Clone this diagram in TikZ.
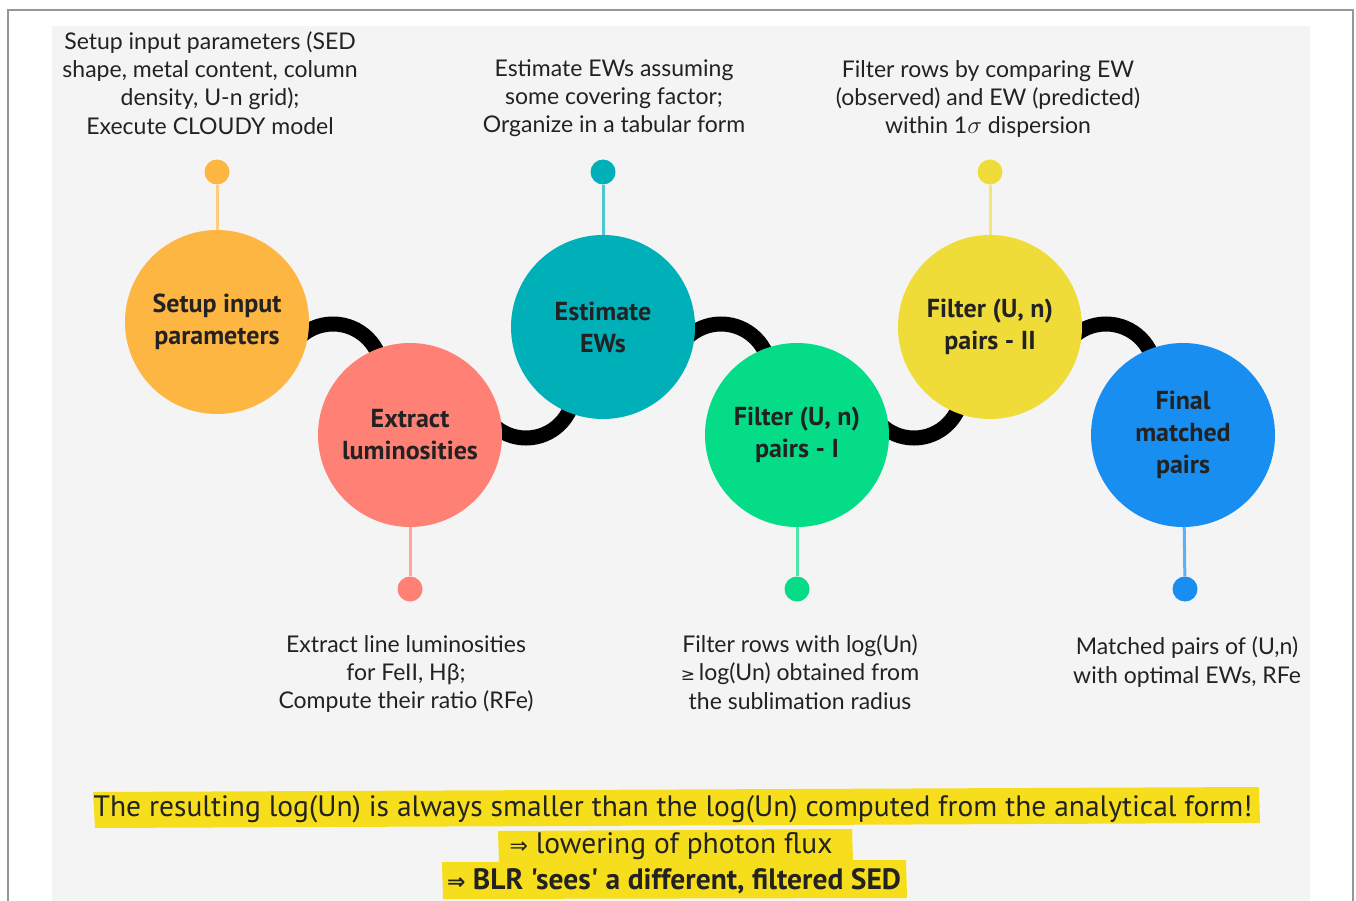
\documentclass[tikz,border=0pt]{standalone}
\usepackage{fontspec}
\setmainfont{Lato}
\newfontfamily\circfont{PT Sans}
\newfontfamily\condfont{PT Sans}
\newfontfamily\symfont{DejaVu Sans}
\definecolor{bggray}{RGB}{244,244,244}
\definecolor{framegray}{RGB}{150,150,150}
\definecolor{corange}{RGB}{254,182,66}
\definecolor{csalmon}{RGB}{255,128,117}
\definecolor{cteal}{RGB}{0,176,185}
\definecolor{cgreen}{RGB}{4,220,136}
\definecolor{cyellow}{RGB}{240,220,56}
\definecolor{cblue}{RGB}{23,142,240}
\definecolor{hlyellow}{RGB}{247,222,28}
\definecolor{txt}{RGB}{34,34,34}
\pgfdeclarelayer{bg}
\pgfdeclarelayer{mid}
\pgfsetlayers{bg,mid,main}
\tikzset{
  stepcirc/.style={circle, minimum size=184pt, inner sep=0pt, align=center,
    font=\circfont\bfseries\fontsize{26}{32}\selectfont, text=txt},
  pindot/.style={circle, minimum size=25pt, inner sep=0pt},
  pinline/.style={line width=3pt},
  linkarc/.style={line width=15pt, draw=black},
  note/.style={align=center, inner sep=0pt, text=txt,
    font=\fontsize{23}{28.3}\selectfont},
  hltext/.style={inner sep=0pt, text=txt,
    font=\condfont\fontsize{29.5}{34}\selectfont},
  hlband/.style={fill=hlyellow},
}
\begin{document}
\begin{tikzpicture}[x=1pt,y=-1pt]
\useasboundingbox (0,0) rectangle (1356,901);
\begin{pgfonlayer}{bg}
  \fill[white] (0,0) rectangle (1356,901);
  \fill[bggray] (52,26) rectangle (1310,901);
  \draw[framegray, line width=1.5pt] (8,901) |- (1353,10) -- (1353,901);
\end{pgfonlayer}

% main step circles
\node[stepcirc, fill=corange] (c1) at (217,322) {Setup input\\parameters};
\node[stepcirc, fill=csalmon] (c2) at (410,435) {Extract\\luminosities};
\node[stepcirc, fill=cteal]   (c3) at (603,327) {Estimate\\EWs};
\node[stepcirc, fill=cgreen]  (c4) at (797,435) {Filter (U, n)\\pairs - I};
\node[stepcirc, fill=cyellow] (c5) at (990,327) {Filter (U, n)\\pairs - II};
\node[stepcirc, fill=cblue]   (c6) at (1183,435) {Final\\matched\\pairs};

% linking arcs (behind circles)
\coordinate (a12) at (284,373);
\coordinate (a23) at (478,390);
\coordinate (a34) at (672,373);
\coordinate (a45) at (866,390);
\coordinate (a56) at (1057,373);
\begin{pgfonlayer}{mid}
  \draw[linkarc] (a12) arc[start angle=180, end angle=0, radius=49pt];
  \draw[linkarc] (a23) arc[start angle=180, end angle=360, radius=48pt];
  \draw[linkarc] (a34) arc[start angle=180, end angle=0, radius=49pt];
  \draw[linkarc] (a45) arc[start angle=180, end angle=360, radius=48pt];
  \draw[linkarc] (a56) arc[start angle=180, end angle=0, radius=49pt];
\end{pgfonlayer}

% pins
\node[pindot, fill=corange] (d1) at (217,172) {};
\node[pindot, fill=csalmon] (d2) at (410,589) {};
\node[pindot, fill=cteal]   (d3) at (603,172) {};
\node[pindot, fill=cgreen]  (d4) at (797,589) {};
\node[pindot, fill=cyellow] (d5) at (990,172) {};
\node[pindot, fill=cblue]   (d6) at (1185,589) {};
\begin{pgfonlayer}{mid}
  \draw[pinline, draw=corange!70] (d1) -- (c1);
  \draw[pinline, draw=csalmon!70] (d2) -- (c2);
  \draw[pinline, draw=cteal!70]   (d3) -- (c3);
  \draw[pinline, draw=cgreen!70]  (d4) -- (c4);
  \draw[pinline, draw=cyellow!70] (d5) -- (c5);
  \draw[pinline, draw=cblue!70]   (d6) -- (c6);
\end{pgfonlayer}

% annotations
\node[note] (t1) at (210,83) {Setup input parameters (SED\\shape, metal content, column\\density, U-n grid);\\Execute CLOUDY model};
\node[note] (t2) at (614,98) {Estimate EWs assuming\\some covering factor;\\Organize in a tabular form};
\node[note] (t3) at (988,99) {Filter rows by comparing EW\\(observed) and EW (predicted)\\within 1$\sigma$ dispersion};
\node[note] (b1) at (406,674) {Extract line luminosities\\for FeII, Hβ;\\Compute their ratio (RFe)};
\node[note] (b2) at (800,672) {Filter rows with log(Un)\\{\symfont\fontsize{17}{20}\selectfont ≥}\,log(Un) obtained from\\the sublimation radius};
\node[note] (b3) at (1187,662) {Matched pairs of (U,n)\\with optimal EWs, RFe};

% highlighted conclusion
\begin{pgfonlayer}{mid}
  \fill[hlband] (93,792) -- (1259,787) -- (1260,823) -- (95,828) -- cycle;
  \fill[hlband] (498,831) -- (852,829) -- (853,861) -- (499,863) -- cycle;
  \fill[hlband] (442,862) -- (906,860) -- (907,898) -- (443,899) -- cycle;
\end{pgfonlayer}
\node[hltext] (h1) at (673,809) {The resulting log(Un) is always smaller than the log(Un) computed from the analytical form!};
\node[hltext] (h2) at (671,846) {{\symfont\fontsize{22}{26}\selectfont ⇒} lowering of photon flux};
\node[hltext, font=\condfont\bfseries\fontsize{29.5}{34}\selectfont] (h3) at (674,881) {{\symfont\fontsize{22}{26}\selectfont ⇒} BLR 'sees' a different, filtered SED};
\end{tikzpicture}
\end{document}
